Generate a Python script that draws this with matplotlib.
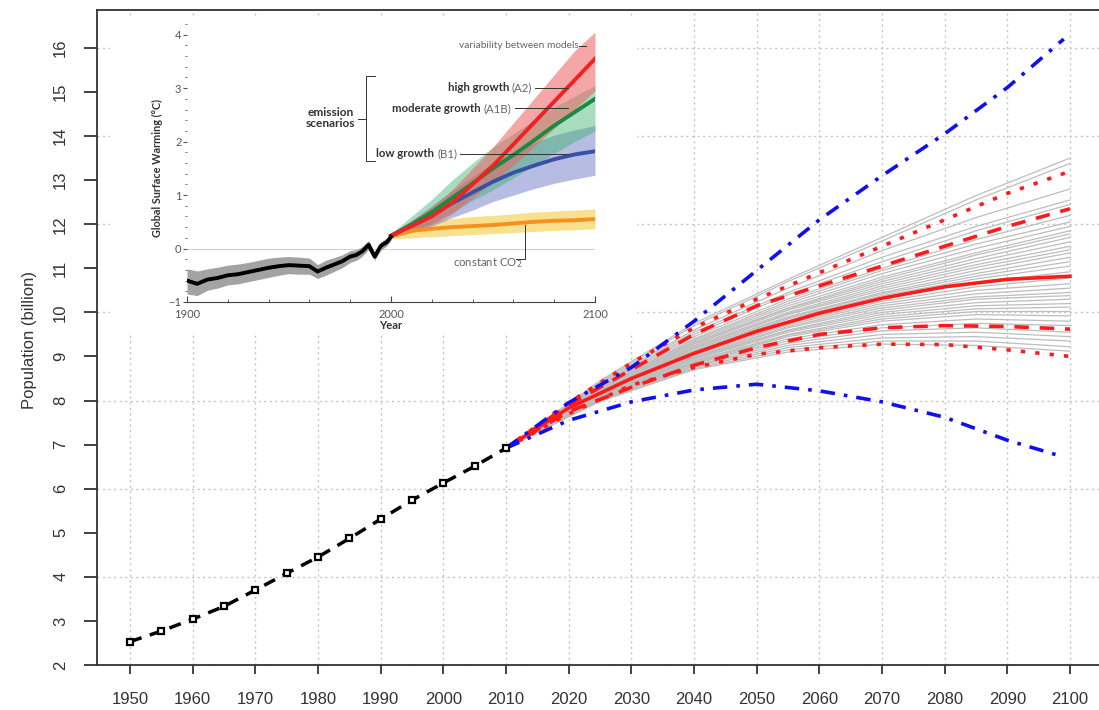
"""World population projections with an inset of IPCC warming scenarios."""
import matplotlib.pyplot as plt
from matplotlib.ticker import MultipleLocator

# ---- main chart: population (billion) ----
hist_years = [1950, 1955, 1960, 1965, 1970, 1975, 1980, 1985, 1990, 1995, 2000, 2005, 2010]
hist_pop = [2.53, 2.77, 3.04, 3.33, 3.70, 4.08, 4.45, 4.87, 5.31, 5.74, 6.13, 6.51, 6.92]

proj_years = [2010, 2020, 2030, 2040, 2050, 2060, 2070, 2080, 2090, 2100]
median = [6.92, 7.83, 8.50, 9.07, 9.57, 9.98, 10.32, 10.58, 10.75, 10.82]
pi80_hi = [6.92, 7.90, 8.70, 9.50, 10.15, 10.60, 11.05, 11.50, 11.95, 12.35]
pi80_lo = [6.92, 7.75, 8.30, 8.80, 9.20, 9.50, 9.65, 9.70, 9.68, 9.62]
pi95_hi = [6.92, 7.95, 8.85, 9.65, 10.30, 10.90, 11.50, 12.10, 12.70, 13.20]
pi95_lo = [6.92, 7.70, 8.35, 8.75, 9.05, 9.20, 9.28, 9.27, 9.15, 9.00]

variant_years = [2010, 2020, 2030, 2040, 2050, 2060, 2070, 2080, 2090, 2099]
high_variant = [6.92, 7.95, 8.75, 9.80, 10.95, 12.10, 13.10, 14.05, 15.10, 16.20]
low_variant = [6.92, 7.55, 7.97, 8.24, 8.37, 8.22, 7.97, 7.62, 7.10, 6.72]

traj_years = [2010, 2025, 2040, 2055, 2070, 2085, 2100]
trajectories = [
    [8.45, 9.75, 10.75, 11.70, 12.65, 13.50],
    [8.42, 9.70, 10.70, 11.62, 12.55, 13.38],
    [8.40, 9.60, 10.55, 11.40, 12.15, 12.80],
    [8.38, 9.55, 10.45, 11.25, 11.95, 12.55],
    [8.35, 9.50, 10.40, 11.15, 11.85, 12.45],
    [8.33, 9.45, 10.30, 11.00, 11.65, 12.20],
    [8.30, 9.40, 10.25, 10.95, 11.55, 12.05],
    [8.30, 9.38, 10.20, 10.88, 11.45, 11.95],
    [8.28, 9.35, 10.15, 10.80, 11.35, 11.85],
    [8.27, 9.32, 10.10, 10.75, 11.30, 11.78],
    [8.25, 9.30, 10.08, 10.70, 11.22, 11.70],
    [8.25, 9.28, 10.05, 10.65, 11.15, 11.60],
    [8.23, 9.25, 10.00, 10.60, 11.08, 11.50],
    [8.22, 9.22, 9.97, 10.55, 11.02, 11.42],
    [8.20, 9.20, 9.95, 10.50, 10.95, 11.35],
    [8.20, 9.18, 9.90, 10.45, 10.88, 11.25],
    [8.18, 9.15, 9.88, 10.42, 10.82, 11.15],
    [8.18, 9.12, 9.85, 10.38, 10.76, 11.05],
    [8.17, 9.10, 9.80, 10.32, 10.68, 10.92],
    [8.15, 9.05, 9.75, 10.25, 10.58, 10.78],
    [8.15, 9.03, 9.72, 10.20, 10.50, 10.65],
    [8.13, 9.00, 9.68, 10.15, 10.42, 10.55],
    [8.12, 8.98, 9.65, 10.10, 10.35, 10.45],
    [8.12, 8.97, 9.60, 10.05, 10.30, 10.38],
    [8.10, 8.95, 9.58, 10.00, 10.22, 10.30],
    [8.10, 8.93, 9.55, 9.95, 10.15, 10.20],
    [8.08, 8.90, 9.50, 9.90, 10.08, 10.12],
    [8.08, 8.88, 9.48, 9.85, 10.02, 10.02],
    [8.07, 8.86, 9.45, 9.80, 9.95, 9.92],
    [8.06, 8.85, 9.40, 9.72, 9.85, 9.80],
    [8.05, 8.83, 9.35, 9.65, 9.75, 9.70],
    [8.05, 8.80, 9.30, 9.58, 9.65, 9.55],
    [8.04, 8.78, 9.25, 9.50, 9.55, 9.45],
    [8.02, 8.75, 9.20, 9.42, 9.45, 9.35],
    [8.00, 8.72, 9.15, 9.35, 9.35, 9.22],
    [7.98, 8.70, 9.10, 9.28, 9.25, 9.12],
]

x_ticks = list(range(1950, 2101, 10))
y_ticks = list(range(2, 17))
y_grid = list(range(2, 17, 2))

# ---- inset: global surface warming (deg C) ----
obs_years = [1900, 1905, 1910, 1915, 1920, 1925, 1930, 1935, 1940, 1945, 1950, 1955, 1960,
             1964, 1968, 1972, 1976, 1980, 1983, 1986, 1989, 1991, 1992, 1995, 1998, 2000]
obs_temp = [-0.60, -0.66, -0.58, -0.55, -0.50, -0.48, -0.44, -0.40, -0.36, -0.33, -0.31, -0.32,
            -0.33, -0.43, -0.36, -0.30, -0.24, -0.15, -0.12, -0.05, 0.07, -0.08, -0.15, 0.05,
            0.12, 0.22]
obs_lo = [-0.85, -0.88, -0.78, -0.74, -0.68, -0.66, -0.62, -0.58, -0.54, -0.50, -0.47, -0.48,
          -0.48, -0.56, -0.50, -0.43, -0.36, -0.26, -0.22, -0.14, -0.02, -0.16, -0.22, -0.03,
          0.05, 0.16]
obs_hi = [-0.38, -0.42, -0.38, -0.35, -0.31, -0.29, -0.26, -0.22, -0.18, -0.16, -0.15, -0.16,
          -0.18, -0.30, -0.22, -0.17, -0.12, -0.04, -0.02, 0.04, 0.15, 0.00, -0.07, 0.13,
          0.20, 0.28]

scen_years = [2000, 2010, 2020, 2030, 2040, 2050, 2060, 2070, 2080, 2090, 2100]
a2 = [0.24, 0.42, 0.60, 0.86, 1.20, 1.55, 1.95, 2.35, 2.75, 3.15, 3.55]
a2_lo = [0.20, 0.32, 0.45, 0.65, 0.95, 1.25, 1.55, 1.90, 2.25, 2.60, 2.95]
a2_hi = [0.28, 0.52, 0.78, 1.10, 1.50, 1.90, 2.35, 2.80, 3.25, 3.70, 4.05]
a1b = [0.24, 0.45, 0.68, 0.95, 1.22, 1.50, 1.75, 2.02, 2.30, 2.55, 2.80]
a1b_lo = [0.20, 0.33, 0.48, 0.68, 0.90, 1.10, 1.32, 1.55, 1.78, 2.00, 2.20]
a1b_hi = [0.28, 0.60, 0.92, 1.28, 1.60, 1.90, 2.15, 2.40, 2.65, 2.85, 3.05]
b1 = [0.24, 0.42, 0.62, 0.85, 1.05, 1.25, 1.42, 1.55, 1.67, 1.76, 1.82]
b1_lo = [0.20, 0.30, 0.42, 0.58, 0.72, 0.88, 1.00, 1.12, 1.22, 1.30, 1.37]
b1_hi = [0.28, 0.52, 0.80, 1.08, 1.35, 1.60, 1.80, 1.98, 2.12, 2.22, 2.30]
const = [0.24, 0.33, 0.37, 0.40, 0.42, 0.44, 0.47, 0.50, 0.52, 0.53, 0.55]
const_lo = [0.18, 0.20, 0.22, 0.24, 0.26, 0.28, 0.30, 0.32, 0.34, 0.35, 0.37]
const_hi = [0.30, 0.45, 0.52, 0.56, 0.60, 0.62, 0.65, 0.68, 0.70, 0.72, 0.74]

W, H = 1099, 710
fig = plt.figure(figsize=(W / 100, H / 100), dpi=100)
plt.rcParams["font.family"] = ["Liberation Sans", "DejaVu Sans"]

ax = fig.add_axes([96.5 / W, 1 - 665 / H, (1103.5 - 96.5) / W, (665 - 10) / H])
ax.set_xlim(1944.65, 2105.35)
ax.set_ylim(2, 16.86)

grid_kw = dict(color="#c4c4c4", lw=1.0, ls=(0, (1.5, 2.5)), zorder=0)
for x in x_ticks:
    ax.axvline(x, **grid_kw)
for y in y_grid:
    ax.axhline(y, **grid_kw)

for row in trajectories:
    ax.plot(traj_years, [hist_pop[-1]] + row, color="#bdbdbd", lw=0.9, zorder=1)

red = "#ff1a1a"
ax.plot(proj_years, pi95_hi, color=red, lw=2.6, ls=(0, (1.2, 2.8)), zorder=2)
ax.plot(proj_years, pi95_lo, color=red, lw=2.6, ls=(0, (1.2, 2.8)), zorder=2)
ax.plot(proj_years, pi80_hi, color=red, lw=2.6, ls=(0, (4, 3)), zorder=2)
ax.plot(proj_years, pi80_lo, color=red, lw=2.6, ls=(0, (4, 3)), zorder=2)
ax.plot(proj_years, median, color=red, lw=2.6, zorder=2)

blue = "#1010ee"
ax.plot(variant_years, high_variant, color=blue, lw=2.6, ls=(0, (4, 2.5, 1, 2.5)), zorder=3)
ax.plot(variant_years, low_variant, color=blue, lw=2.6, ls=(0, (4, 2.5, 1, 2.5)), zorder=3)

ax.plot(hist_years, hist_pop, color="black", lw=2.5, ls=(0, (3.5, 2.5)), marker="s",
        ms=4.5, mfc="white", mec="black", mew=1.6, zorder=4)

for s in ax.spines.values():
    s.set_color("#333333")
    s.set_linewidth(1.3)
ax.set_xticks(x_ticks)
ax.set_yticks(y_ticks)
ax.tick_params(axis="x", length=6.5, width=1.3, pad=13, labelsize=12,
               color="#333333", labelcolor="#333333")
ax.tick_params(axis="y", length=9.4, width=1.3, pad=11, labelsize=12,
               color="#333333", labelcolor="#333333")
for lab in ax.get_yticklabels():
    lab.set_rotation(90)
    lab.set_va("center")
fig.text(30 / W, 1 - 340 / H, "Population (billion)", rotation=90, ha="center",
         va="center", fontsize=12, color="#333333")

# white patch that the inset sits on
box = fig.add_axes([110 / W, 1 - 332 / H, 527 / W, 316 / H])
box.set_facecolor("white")
box.set_xticks([])
box.set_yticks([])
for s in box.spines.values():
    s.set_visible(False)

ins = fig.add_axes([187 / W, 1 - 302 / H, 408 / W, (302 - 24) / H])
ins.patch.set_alpha(0)
ins.set_xlim(1900, 2100)
ins.set_ylim(-1, 4.2)
ifont = ["Lato", "DejaVu Sans"]

ins.axhline(0, color="#cfcfcf", lw=0.7, zorder=0)
ins.fill_between(scen_years, const_lo, const_hi, color="#f3d24e", alpha=0.65, lw=0)
ins.fill_between(scen_years, b1_lo, b1_hi, color="#7d86cc", alpha=0.55, lw=0)
ins.fill_between(scen_years, a1b_lo, a1b_hi, color="#3cb371", alpha=0.45, lw=0)
ins.fill_between(scen_years, a2_lo, a2_hi, color="#ee6060", alpha=0.55, lw=0)
ins.fill_between(obs_years, obs_lo, obs_hi, color="#a3a3a3", lw=0)

ins.plot(scen_years, const, color="#f7901e", lw=2.8)
ins.plot(scen_years, b1, color="#3950a8", lw=2.8)
ins.plot(scen_years, a1b, color="#198a40", lw=2.8)
ins.plot(scen_years, a2, color="#ee2222", lw=2.8)
ins.plot(obs_years, obs_temp, color="black", lw=2.8)

for side in ("left", "top", "right"):
    ins.spines[side].set_visible(False)
ins.spines["bottom"].set_color("#444444")
ins.spines["bottom"].set_linewidth(0.8)
ins.set_xticks([1900, 2000, 2100])
ins.xaxis.set_minor_locator(MultipleLocator(20))
ins.set_yticks([-1, 0, 1, 2, 3, 4])
ins.yaxis.set_minor_locator(MultipleLocator(0.2))
ins.tick_params(axis="x", which="both", direction="in", color="#444444", labelcolor="#555555",
                labelsize=8, pad=5)
ins.tick_params(axis="x", which="major", length=4, width=0.8)
ins.tick_params(axis="x", which="minor", length=2.5, width=0.6)
ins.tick_params(axis="y", which="both", direction="out", color="#555555", labelcolor="#555555",
                labelsize=8, pad=1)
ins.tick_params(axis="y", which="major", length=3, width=0.8)
ins.tick_params(axis="y", which="minor", length=1.8, width=0.6)
for lab in ins.get_xticklabels() + ins.get_yticklabels():
    lab.set_family(ifont)
ins.set_xlabel("Year", family=ifont, fontsize=8, weight="bold", color="#333333", labelpad=0)
ins.text(-0.073, 0.482, "Global Surface Warming (°C)", transform=ins.transAxes, rotation=90,
         ha="center", va="center", family=ifont, fontsize=7.8, weight="bold", color="#333333")

lk = dict(color="#333333", lw=0.7)
tk = dict(family=ifont, fontsize=8.2, va="center")
ins.text(2092, 3.79, "variability between models", ha="right", color="#666666",
         **{**tk, "fontsize": 7.3})
ins.plot([2092.3, 2095.5], [3.79, 3.79], **lk)

for label, tag, x_end, y in [("high growth", "(A2)", 2069.2, 3.01),
                             ("moderate growth", "(A1B)", 2059.1, 2.62),
                             ("low growth", "(B1)", 2032.4, 1.77)]:
    t = ins.text(x_end, y, tag, ha="right", color="#666666", **tk)
    ins.annotate(label, xy=(0, 0.5), xycoords=t, xytext=(-2, 0), textcoords="offset points",
                 ha="right", weight="bold", color="#333333", **tk)
    ins.plot([x_end + 1.5, 2087], [y, y], **lk)

ins.text(1982.5, 2.44, "emission\nscenarios", ha="right", multialignment="center",
         weight="bold", color="#333333", linespacing=1.0, **{**tk, "fontsize": 8.6})
ins.plot([1992.4, 1987.8, 1987.8, 1992.4], [3.23, 3.23, 1.63, 1.63], **lk)
ins.plot([1984.0, 1987.8], [2.42, 2.42], **lk)

ins.text(2030.5, -0.27, "constant CO$_2$", ha="left", color="#666666", **tk)
ins.plot([2061.5, 2065.8, 2065.8], [-0.19, -0.19, 0.44], **lk)

fig.savefig("out.png", dpi=100)
